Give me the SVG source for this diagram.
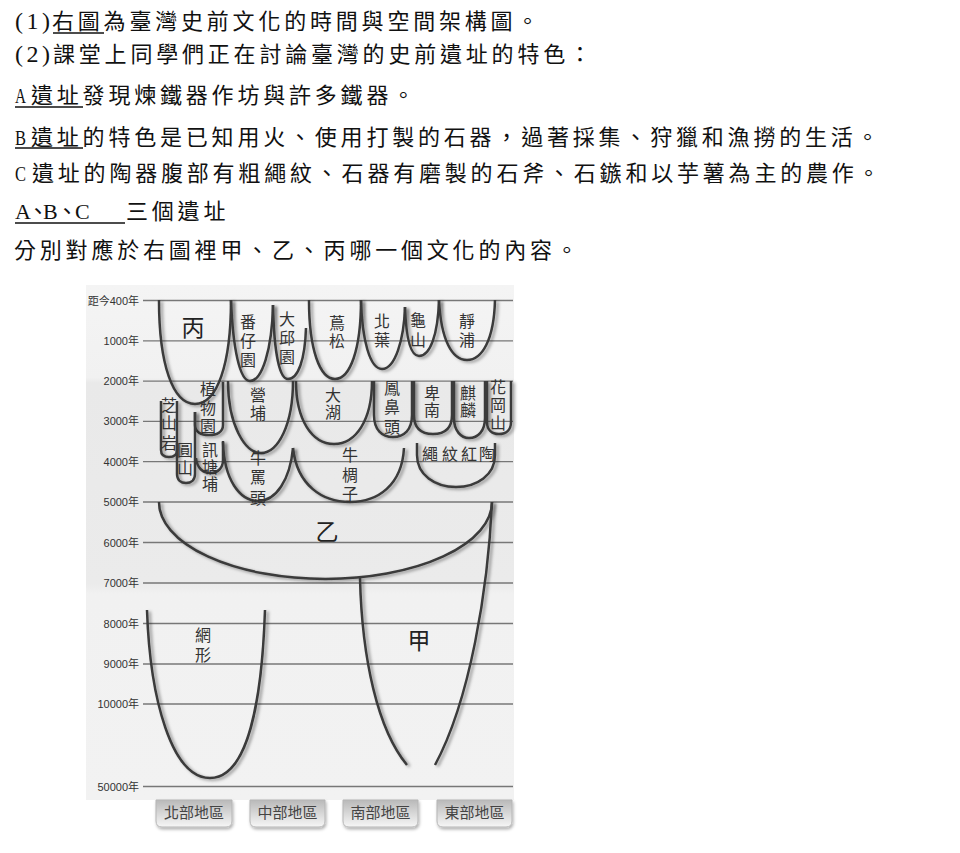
<svg xmlns="http://www.w3.org/2000/svg" width="960" height="853" viewBox="0 0 960 853">
<defs>
<style>
.q{font-family:"Liberation Serif","Noto Sans CJK TC",serif;font-size:22px;fill:#111}
.pn{font-size:24px}
.cj{letter-spacing:3.8px}
.ul{stroke:#111;stroke-width:1.3}
.ax{font-family:"Liberation Sans","Noto Sans CJK TC",sans-serif;font-size:11px;fill:#333;text-anchor:end;dominant-baseline:central}
.grid{stroke:#777;stroke-width:1.3}
.u{fill:none;stroke:#3a3a3a;stroke-width:2.5;filter:url(#sh)}
.lb{font-family:"Liberation Serif","Noto Sans CJK TC",serif;font-size:16px;fill:#333;text-anchor:middle;dominant-baseline:central}
.big{font-size:23px;fill:#222}
.bt{font-family:"Liberation Sans","Noto Sans CJK TC",sans-serif;font-size:15px;fill:#444;text-anchor:middle;dominant-baseline:central}
.btn{fill:url(#bg);stroke:#b5b5b5;stroke-width:1;filter:url(#sh2)}
</style>
<filter id="sh" filterUnits="userSpaceOnUse" x="0" y="0" width="960" height="853">
<feDropShadow dx="2.5" dy="1.5" stdDeviation="1.4" flood-color="#000" flood-opacity="0.4"/>
</filter>
<filter id="sh2" filterUnits="userSpaceOnUse" x="0" y="0" width="960" height="853">
<feDropShadow dx="1" dy="2" stdDeviation="1.5" flood-color="#000" flood-opacity="0.3"/>
</filter>
<linearGradient id="pg" x1="0" y1="285" x2="0" y2="800" gradientUnits="userSpaceOnUse">
<stop offset="0" stop-color="#f4f4f4"/>
<stop offset="0.18" stop-color="#f1f1f1"/>
<stop offset="0.19" stop-color="#e9e9e9"/>
<stop offset="0.58" stop-color="#ebebeb"/>
<stop offset="0.6" stop-color="#f1f1f1"/>
<stop offset="1" stop-color="#f2f2f2"/>
</linearGradient>
<linearGradient id="bg" x1="0" y1="0" x2="0" y2="1">
<stop offset="0" stop-color="#b9b9b9"/>
<stop offset="0.6" stop-color="#dedede"/>
<stop offset="1" stop-color="#f6f6f6"/>
</linearGradient>
</defs>
<rect width="960" height="853" fill="#fff"/>

<g id="question">
<text class="q pn" x="15" y="29" textLength="35" lengthAdjust="spacing">(1)</text>
<text class="q cj" x="52" y="29">右圖為臺灣史前文化的時間與空間架構圖。</text>
<line class="ul" x1="53" y1="33" x2="104" y2="33"/>
<text class="q pn" x="15" y="62" textLength="35" lengthAdjust="spacing">(2)</text>
<text class="q cj" x="53" y="62">課堂上同學們正在討論臺灣的史前遺址的特色：</text>
<text class="q" x="15" y="103" textLength="11" lengthAdjust="spacingAndGlyphs">A</text>
<text class="q cj" x="31" y="103">遺址發現煉鐵器作坊與許多鐵器。</text>
<line class="ul" x1="15" y1="107" x2="83" y2="107"/>
<text class="q" x="15" y="145" textLength="11" lengthAdjust="spacingAndGlyphs">B</text>
<text class="q cj" x="31" y="145">遺址的特色是已知用火、使用打製的石器，過著採集、狩獵和漁撈的生活。</text>
<line class="ul" x1="15" y1="148" x2="83" y2="148"/>
<text class="q" x="15" y="181" textLength="11" lengthAdjust="spacingAndGlyphs">C</text>
<text class="q cj" x="32" y="181">遺址的陶器腹部有粗繩紋、石器有磨製的石斧、石鏃和以芋薯為主的農作。</text>
<text class="q" x="15 27 43 56 75" y="219">A、B、C</text>
<line class="ul" x1="15" y1="223" x2="125" y2="223"/>
<text class="q cj" x="126" y="219">三個遺址</text>
<text class="q cj" x="14" y="258">分別對應於右圖裡甲、乙、丙哪一個文化的內容。</text>
</g>

<g id="chart-bg">
<rect x="86" y="285" width="428" height="515" fill="url(#pg)"/>
<g class="grid">
<line x1="143" y1="300.5" x2="513" y2="300.5"/>
<line x1="143" y1="340.8" x2="513" y2="340.8"/>
<line x1="143" y1="381.1" x2="513" y2="381.1"/>
<line x1="143" y1="421.4" x2="513" y2="421.4"/>
<line x1="143" y1="461.7" x2="513" y2="461.7"/>
<line x1="143" y1="502" x2="513" y2="502"/>
<line x1="143" y1="542.5" x2="513" y2="542.5"/>
<line x1="143" y1="583" x2="513" y2="583"/>
<line x1="143" y1="623.5" x2="513" y2="623.5"/>
<line x1="143" y1="664" x2="513" y2="664"/>
<line x1="143" y1="704" x2="513" y2="704"/>
<line x1="143" y1="786.5" x2="513" y2="786.5"/>
</g>
<g id="axis">
<text class="ax" x="139" y="300.5">距今400年</text>
<text class="ax" x="139" y="340.8">1000年</text>
<text class="ax" x="139" y="381.1">2000年</text>
<text class="ax" x="139" y="421.4">3000年</text>
<text class="ax" x="139" y="461.7">4000年</text>
<text class="ax" x="139" y="502">5000年</text>
<text class="ax" x="139" y="542.5">6000年</text>
<text class="ax" x="139" y="583">7000年</text>
<text class="ax" x="139" y="623.5">8000年</text>
<text class="ax" x="139" y="664">9000年</text>
<text class="ax" x="139" y="704">10000年</text>
<text class="ax" x="139" y="786.5">50000年</text>
</g>
</g>

<g id="cultures">
<g id="bing"><path class="u" d="M159,300 C159,365 173,404 195,404 C217,404 231,365 231,300"/><text class="lb big" x="193" y="328">丙</text></g>
<g id="fanziyuan"><path class="u" d="M231,300 C233,350 240,381 250,381 C262,381 272,350 273,305"/><text class="lb" x="248 248 248" y="322 341 360">番仔園</text></g>
<g id="daqiuyuan"><path class="u" d="M273,305 C274,350 279,379 288,379 C298,379 305,360 306,328"/><text class="lb" x="287 287 287" y="319 338 357">大邱園</text></g>
<g id="niaosong"><path class="u" d="M309,300 C309,350 320,379 335,379 C350,379 361,350 361,300"/><text class="lb" x="337 337" y="323 341">蔦松</text></g>
<g id="beiye"><path class="u" d="M361,300 C362,340 370,369 382,369 C395,369 404,340 405,307"/><text class="lb" x="382 382" y="321 340">北葉</text></g>
<g id="guishan"><path class="u" d="M405,307 C406,335 410,356 419,356 C430,356 438,335 439,300"/><text class="lb" x="418 418" y="320 340">龜山</text></g>
<g id="jingpu"><path class="u" d="M439,300 C441,340 452,360 467,360 C482,360 494,340 495,300"/><text class="lb" x="467 467" y="321 340">靜浦</text></g>

<g id="zhiwuyuan"><path class="u" d="M195,412 L195,425 C195,432 201,435 209,435 C217,435 223,432 223,425 L223,382"/><text class="lb" x="208 208 208" y="389 408 426">植物園</text></g>
<g id="zhishanyan"><path class="u" d="M161,401 L161,450 C161,455 164,457 169,457 C174,457 177,455 177,450 L177,401"/><text class="lb" x="169 169 169" y="405 423 443">芝山岩</text></g>
<g id="yuanshan"><path class="u" d="M177,443 L177,474 C177,480 181,483 186,483 C191,483 195,480 195,474 L195,412"/><text class="lb" x="185 185" y="450 468">圓山</text></g>
<g id="xuntangpu"><path class="u" d="M196,458 C197,468 203,473 210,473 C218,473 223,468 223,460 L223,441"/><text class="lb" x="210 210 210" y="450 467 484">訊塘埔</text></g>
<g id="yingpu"><path class="u" d="M228,381 C228,425 245,453 261,453 C278,453 293,425 293,381"/><text class="lb" x="258 258" y="395 413">營埔</text></g>
<g id="niumatou"><path class="u" d="M223,442 C224,480 240,501 258,501 C276,501 290,480 293,448"/><text class="lb" x="258 258 258" y="458 477 498">牛罵頭</text></g>
<g id="dahu"><path class="u" d="M296,381 C296,420 312,444 334,444 C356,444 372,420 372,381"/><text class="lb" x="333 333" y="395 412">大湖</text></g>
<g id="niuchouzi"><path class="u" d="M293,448 C297,485 322,502 350,502 C378,502 402,485 404,448"/><text class="lb" x="350 350 350" y="455 475 494">牛椆子</text></g>
<g id="fengbitou"><path class="u" d="M374,381 L374,415 C374,430 382,437 393,437 C404,437 412,430 412,415 L412,381"/><text class="lb" x="392 392 392" y="388 407 427">鳳鼻頭</text></g>
<g id="beinan"><path class="u" d="M414,381 L414,415 C414,428 421,434 433,434 C445,434 452,428 452,415 L452,381"/><text class="lb" x="432 432" y="393 410">卑南</text></g>
<g id="qilin"><path class="u" d="M454,381 L454,418 C454,431 461,438 469,438 C478,438 485,431 485,418 L485,381"/><text class="lb" x="468 468" y="393 410">麒麟</text></g>
<g id="huagangshan"><path class="u" d="M487,381 L487,422 C487,430 492,434 499,434 C506,434 511,430 511,422 L511,381"/><text class="lb" x="498 498 498" y="387 405 423">花岡山</text></g>
<g id="shengwenhongtao"><path class="u" d="M417,443 L417,455 C417,475 435,487 456,487 C477,487 495,475 495,455 L495,443"/><text class="lb" x="430 450 469 487" y="454">繩紋紅陶</text></g>

<g id="yi"><path class="u" d="M159,502 A166.5,77 0 0 0 492,502"/><text class="lb big" x="327" y="532">乙</text></g>
<g id="jia"><path class="u" d="M360,578 C362,660 378,730 407,765"/><path class="u" d="M492,502 C488,590 470,700 435,765"/><text class="lb big" x="419" y="641">甲</text></g>
<g id="wangxing"><path class="u" d="M147,610 C150,700 172,778 210,778 C248,778 262,700 265,610"/><text class="lb" x="203 203" y="635 655">網形</text></g>
</g>

<g id="regions">
<g id="north"><path class="btn" d="M156,800 H232 V821 Q232,827 226,827 H162 Q156,827 156,821 Z"/><text class="bt" x="194" y="812">北部地區</text></g>
<g id="central"><path class="btn" d="M250,800 H325 V821 Q325,827 319,827 H256 Q250,827 250,821 Z"/><text class="bt" x="287.5" y="812">中部地區</text></g>
<g id="south"><path class="btn" d="M343,800 H418 V821 Q418,827 412,827 H349 Q343,827 343,821 Z"/><text class="bt" x="380.5" y="812">南部地區</text></g>
<g id="east"><path class="btn" d="M437,800 H512 V821 Q512,827 506,827 H443 Q437,827 437,821 Z"/><text class="bt" x="474.5" y="812">東部地區</text></g>
</g>
<g id="connectors"/>
</svg>
